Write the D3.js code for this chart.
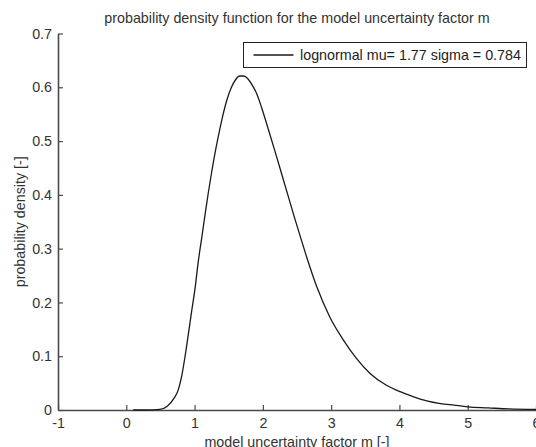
<!DOCTYPE html>
<html>
<head>
<meta charset="utf-8">
<script src="https://cdn.jsdelivr.net/npm/d3@7"></script>
<style>
    body { margin: 0; background: #fff; }
    svg { display: block; font-family: "Liberation Sans", Arial, sans-serif; }
</style>
</head>
<body>
<div id="chart"></div>
<script>
// values
const M_VALUES = [0.1, 0.3, 0.49, 0.6, 0.7, 0.76, 0.81, 0.86, 0.91, 0.96, 1.01, 1.05, 1.10, 1.15,
    1.20, 1.25, 1.30, 1.35, 1.40, 1.47, 1.54, 1.60, 1.66, 1.72, 1.78, 1.84, 1.91, 1.98, 2.08,
    2.18, 2.28, 2.37, 2.47, 2.54, 2.64, 2.79, 2.98, 3.18, 3.37, 3.57, 3.81, 4.01, 4.20, 4.40,
    4.60, 4.80, 5.00, 5.30, 5.60, 6.00];
const DENSITY = [0, 0, 0.001, 0.007, 0.022, 0.037, 0.062, 0.099, 0.142, 0.186, 0.229, 0.272, 0.316, 0.360,
    0.403, 0.442, 0.478, 0.510, 0.540, 0.575, 0.600, 0.614, 0.621, 0.621, 0.616, 0.605, 0.588, 0.563, 0.522,
    0.480, 0.437, 0.398, 0.355, 0.326, 0.285, 0.229, 0.173, 0.130, 0.096, 0.068, 0.046, 0.034, 0.025, 0.017,
    0.012, 0.009, 0.006, 0.004, 0.002, 0.001];
const X_TICKS = [-1, 0, 1, 2, 3, 4, 5, 6];
const Y_TICKS = [0, 0.1, 0.2, 0.3, 0.4, 0.5, 0.6, 0.7];
const TITLE = "probability density function for the model uncertainty factor m";
const X_LABEL = "model uncertainty factor m [-]";
const Y_LABEL = "probability density [-]";
const LEGEND_LABEL = "lognormal mu= 1.77 sigma = 0.784";

const WIDTH = 536, HEIGHT = 447;
const MARGINS = { top: 33.5, right: 0, bottom: 37, left: 58 };
const INNER = {
    WIDTH: WIDTH - MARGINS.left - MARGINS.right,
    HEIGHT: HEIGHT - MARGINS.top - MARGINS.bottom
};
const AXIS_COLOR = "#4a4a4a";
const FONT = 14.3;

const svg = d3.select("#chart").append("svg")
    .attr("width", WIDTH)
    .attr("height", HEIGHT);

const g = svg.append("g")
    .attr("transform", "translate(" + MARGINS.left + "," + MARGINS.top + ")");

const x = d3.scaleLinear().domain([-1, 6]).range([0, INNER.WIDTH]);
const y = d3.scaleLinear().domain([0, 0.7]).range([INNER.HEIGHT, 0]);

// matlab style: ticks point inwards, plain hyphen for the minus
const xAxis = g.append("g")
    .attr("transform", "translate(0," + INNER.HEIGHT + ")")
    .call(d3.axisBottom(x).tickValues(X_TICKS).tickFormat(d => String(d))
        .tickSizeInner(-5).tickSizeOuter(0).tickPadding(8));
const yAxis = g.append("g")
    .call(d3.axisLeft(y).tickValues(Y_TICKS).tickFormat(d => d === 0 ? "0" : d.toFixed(1))
        .tickSizeInner(-5).tickSizeOuter(0).tickPadding(6));

[xAxis, yAxis].forEach(a => {
    a.select(".domain").attr("stroke", AXIS_COLOR).attr("stroke-width", 1.6);
    a.selectAll(".tick line").attr("stroke", AXIS_COLOR).attr("stroke-width", 1.2);
    a.selectAll(".tick text")
        .attr("fill", "#333")
        .style("font-size", FONT + "px")
        .style("font-family", '"Liberation Sans", Arial, sans-serif');
});
xAxis.selectAll(".tick text").attr("dy", "0.71em");

const points = M_VALUES.map((m, i) => ({ m: m, p: DENSITY[i] }));

g.append("path")
    .datum(points)
    .attr("fill", "none")
    .attr("stroke", "#1a1a1a")
    .attr("stroke-width", 1.3)
    .attr("d", d3.line().x(d => x(d.m)).y(d => y(d.p)).curve(d3.curveMonotoneX));

// title + axis labels
svg.append("text")
    .attr("x", MARGINS.left + INNER.WIDTH / 2)
    .attr("y", 23)
    .attr("text-anchor", "middle")
    .attr("fill", "#333")
    .style("font-size", FONT + "px")
    .text(TITLE);

svg.append("text")
    .attr("x", MARGINS.left + INNER.WIDTH / 2)
    .attr("y", 447)
    .attr("text-anchor", "middle")
    .attr("fill", "#333")
    .style("font-size", FONT + "px")
    .text(X_LABEL);

svg.append("text")
    .attr("transform", "translate(25," + (MARGINS.top + INNER.HEIGHT / 2) + ") rotate(-90)")
    .attr("text-anchor", "middle")
    .attr("fill", "#333")
    .style("font-size", FONT + "px")
    .text(Y_LABEL);

// legend
const legend = svg.append("g").attr("transform", "translate(243.5,42.5)");
legend.append("rect")
    .attr("width", 283)
    .attr("height", 25)
    .attr("fill", "#fff")
    .attr("stroke", "#222")
    .attr("stroke-width", 1);
legend.append("line")
    .attr("x1", 10).attr("x2", 50)
    .attr("y1", 12.5).attr("y2", 12.5)
    .attr("stroke", "#1a1a1a")
    .attr("stroke-width", 1.3);
legend.append("text")
    .attr("x", 56.5)
    .attr("y", 17.5)
    .attr("fill", "#222")
    .style("font-size", FONT + "px")
    .text(LEGEND_LABEL);
</script>
</body>
</html>
